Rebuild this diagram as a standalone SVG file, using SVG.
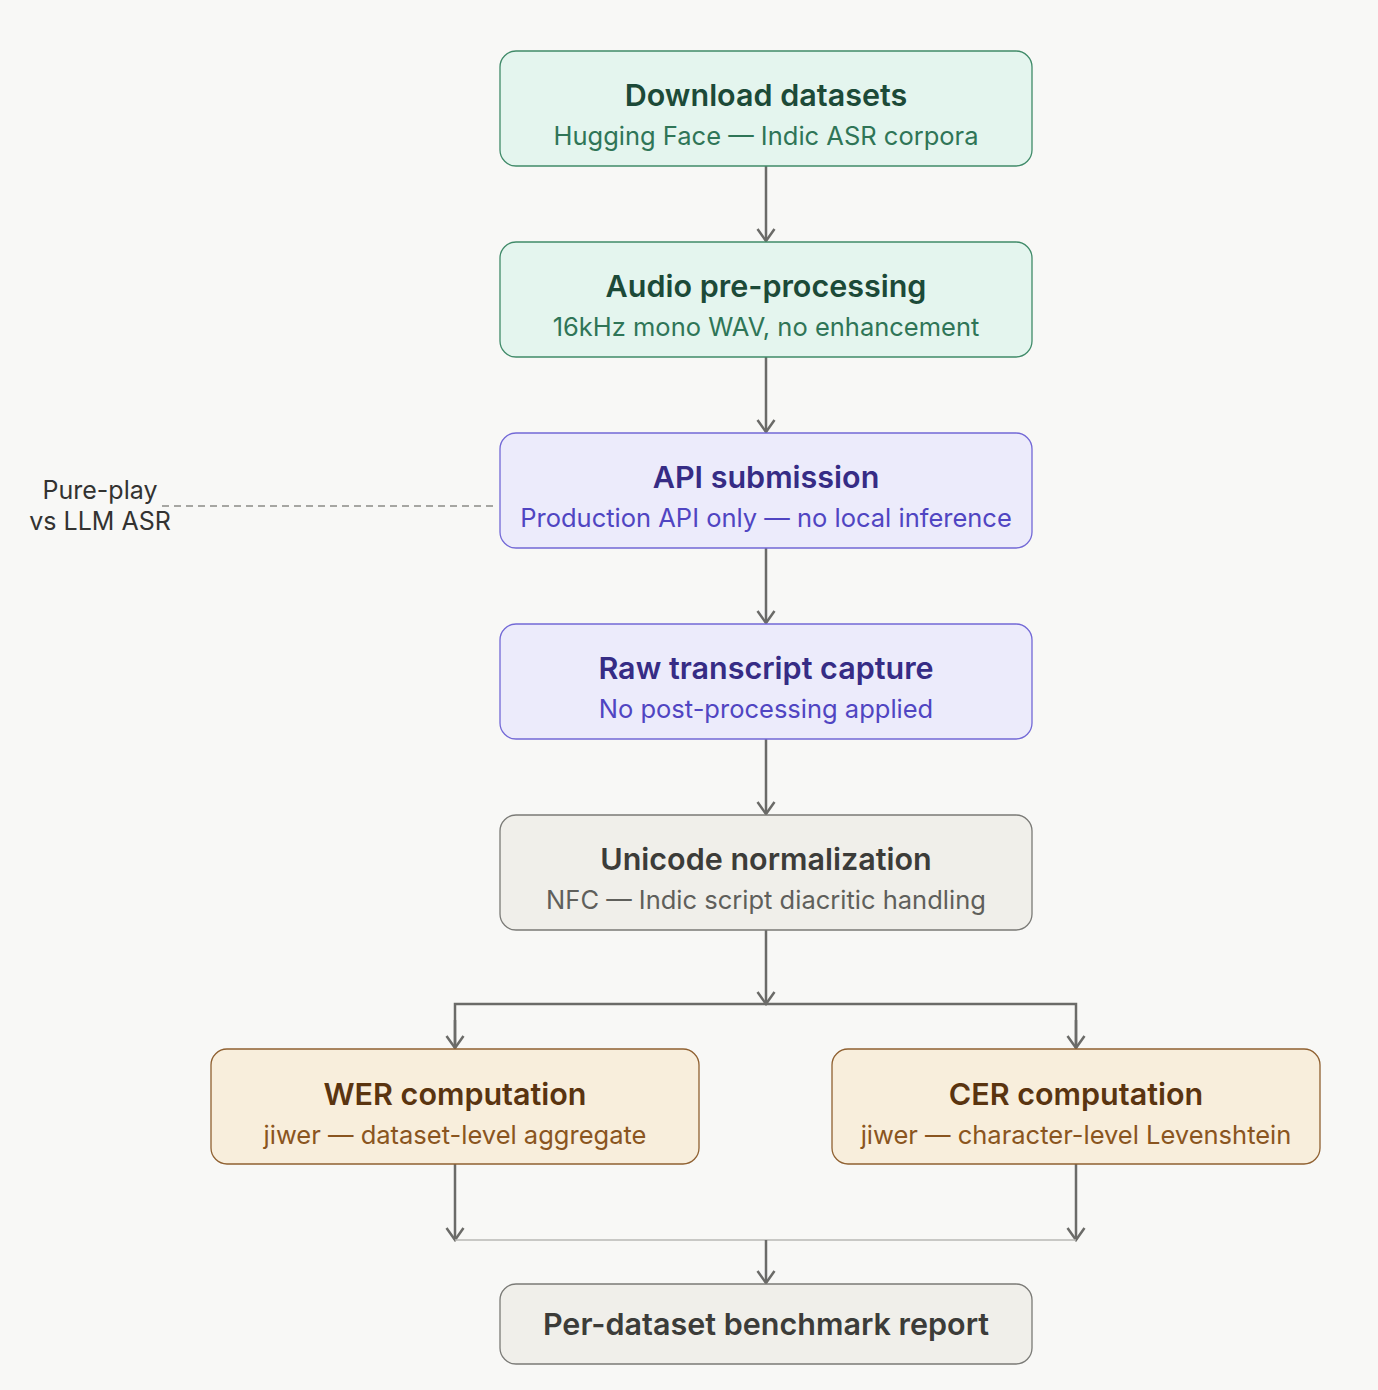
<svg xmlns="http://www.w3.org/2000/svg" width="1378" height="1390" viewBox="0 0 1378 1390">
<defs>
<marker id="ah" viewBox="0 0 20 20" refX="18" refY="10" markerWidth="20" markerHeight="20" markerUnits="userSpaceOnUse" orient="auto">
<path d="M6 1.5 L18 10 L6 18.5" fill="none" stroke="#6b6b68" stroke-width="2.5"/>
</marker>
<style>
.t{font-family:Inter,"Noto Sans",sans-serif;font-size:30.5px;font-weight:600;text-anchor:middle}
.s{font-family:Inter,"Noto Sans",sans-serif;font-size:25.5px;font-weight:400;text-anchor:middle}
.g rect{fill:#e4f5ee;stroke:#3f8a68}
.g .t{fill:#1c4a38}.g .s{fill:#2f7557}
.p rect{fill:#ecebfb;stroke:#7268d6}
.p .t{fill:#362c85}.p .s{fill:#5045c2}
.n rect{fill:#f0efea;stroke:#7a7a76}
.n .t{fill:#3c3c39}.n .s{fill:#5f5f5b}
.o rect{fill:#f8eedc;stroke:#8f6030}
.o .t{fill:#5a3410}.o .s{fill:#8a5520}
rect{stroke-width:1.3}
.c{fill:none;stroke:#6b6b68;stroke-width:2.5}
.l{font-family:Inter,"Noto Sans",sans-serif;font-size:25px;fill:#333331;text-anchor:middle}
</style>
</defs>
<rect width="1378" height="1390" fill="#f8f8f6"/>
<g id="connectors">
<line class="c" x1="766" y1="166" x2="766" y2="241" marker-end="url(#ah)"/>
<line class="c" x1="766" y1="357" x2="766" y2="432" marker-end="url(#ah)"/>
<line class="c" x1="766" y1="548" x2="766" y2="623" marker-end="url(#ah)"/>
<line class="c" x1="766" y1="739" x2="766" y2="814" marker-end="url(#ah)"/>
<line class="c" x1="766" y1="930" x2="766" y2="1004" marker-end="url(#ah)"/>
<polyline class="c" points="455,1048 455,1004 1076,1004 1076,1048"/>
<line class="c" x1="455" y1="1020" x2="455" y2="1048" marker-end="url(#ah)"/>
<line class="c" x1="1076" y1="1020" x2="1076" y2="1048" marker-end="url(#ah)"/>
<line class="c" x1="455" y1="1164" x2="455" y2="1240" marker-end="url(#ah)"/>
<line class="c" x1="1076" y1="1164" x2="1076" y2="1240" marker-end="url(#ah)"/>
<line x1="455" y1="1240" x2="1076" y2="1240" stroke="#b8b8b4" stroke-width="1.5"/>
<line class="c" x1="766" y1="1240" x2="766" y2="1283" marker-end="url(#ah)"/>
<line x1="162" y1="506" x2="498" y2="506" stroke="#8a8a86" stroke-width="1.5" stroke-dasharray="7 5"/>
</g>
<g id="n1" class="g"><rect x="500" y="51" width="532" height="115" rx="16"/><text class="t" x="766" y="106">Download datasets</text><text class="s" x="766" y="145">Hugging Face — Indic ASR corpora</text></g>
<g id="n2" class="g"><rect x="500" y="242" width="532" height="115" rx="16"/><text class="t" x="766" y="297">Audio pre-processing</text><text class="s" x="766" y="336">16kHz mono WAV, no enhancement</text></g>
<g id="n3" class="p"><rect x="500" y="433" width="532" height="115" rx="16"/><text class="t" x="766" y="488">API submission</text><text class="s" x="766" y="527">Production API only — no local inference</text></g>
<g id="n4" class="p"><rect x="500" y="624" width="532" height="115" rx="16"/><text class="t" x="766" y="679">Raw transcript capture</text><text class="s" x="766" y="718">No post-processing applied</text></g>
<g id="n5" class="n"><rect x="500" y="815" width="532" height="115" rx="16"/><text class="t" x="766" y="870">Unicode normalization</text><text class="s" x="766" y="909">NFC — Indic script diacritic handling</text></g>
<g id="n6" class="o"><rect x="211" y="1049" width="488" height="115" rx="16"/><text class="t" x="455" y="1105">WER computation</text><text class="s" x="455" y="1144">jiwer — dataset-level aggregate</text></g>
<g id="n7" class="o"><rect x="832" y="1049" width="488" height="115" rx="16"/><text class="t" x="1076" y="1105">CER computation</text><text class="s" x="1076" y="1144">jiwer — character-level Levenshtein</text></g>
<g id="n8" class="n"><rect x="500" y="1284" width="532" height="80" rx="16"/><text class="t" x="766" y="1335">Per-dataset benchmark report</text></g>
<g id="note"><text class="l" x="100" y="499">Pure-play</text><text class="l" x="100" y="530">vs LLM ASR</text></g>
</svg>
